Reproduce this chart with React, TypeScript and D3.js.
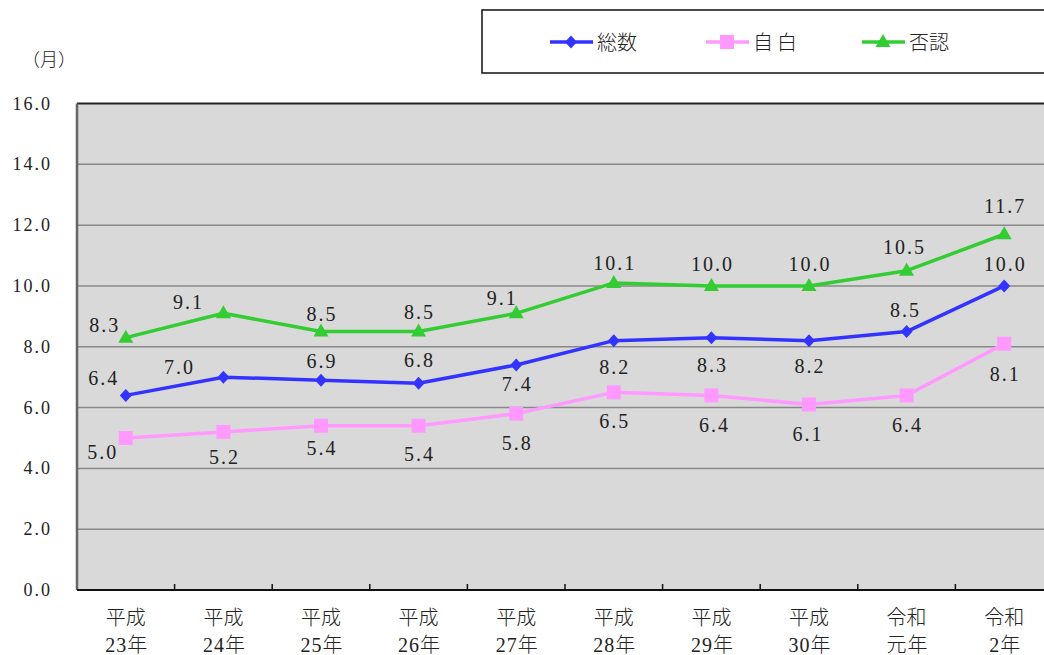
import * as d3 from 'd3';

// categories (two-line labels)
const categories = ['H23', 'H24', 'H25', 'H26', 'H27', 'H28', 'H29', 'H30', 'R1', 'R2'];
const categoryLine1 = ['平成', '平成', '平成', '平成', '平成', '平成', '平成', '平成', '令和', '令和'];
const categoryLine2 = ['23年', '24年', '25年', '26年', '27年', '28年', '29年', '30年', '元年', '2年'];

// series values (months)
const totalValues = [6.4, 7.0, 6.9, 6.8, 7.4, 8.2, 8.3, 8.2, 8.5, 10.0];
const confessValues = [5.0, 5.2, 5.4, 5.4, 5.8, 6.5, 6.4, 6.1, 6.4, 8.1];
const denyValues = [8.3, 9.1, 8.5, 8.5, 9.1, 10.1, 10.0, 10.0, 10.5, 11.7];

const yTicks = [0, 2, 4, 6, 8, 10, 12, 14, 16];

// label placement relative to the point, in px
const totalLabelOffsets = [[-23, -17], [-45, -10], [0, -19], [0, -23], [0, 19], [0, 26], [0, 27], [0, 25], [-2, -22], [0, -22]];
const confessLabelOffsets = [[-24, 14], [0, 25], [0, 22], [0, 28], [0, 29], [0, 29], [2, 30], [-2, 29], [0, 30], [0, 30]];
const denyLabelOffsets = [[-22, -13], [-36, -11], [0, -18], [0, -20], [-15, -15], [0, -20], [0, -22], [0, -22], [-3, -24], [0, -28]];

const W = 1044;
const H = 655;
const plot = { left: 77, top: 103.5, right: 1053, bottom: 590 };

const numFont = '"Liberation Serif", serif';
const cjkFont = '"Liberation Serif", "Noto Sans CJK JP", serif';

type Marker = 'diamond' | 'square' | 'triangle';

function markerPath(kind: Marker, x: number, y: number) {
  const p = d3.path();
  if (kind === 'diamond') {
    p.moveTo(x, y - 6.5);
    p.lineTo(x + 6, y);
    p.lineTo(x, y + 6.5);
    p.lineTo(x - 6, y);
    p.closePath();
  } else if (kind === 'square') {
    p.rect(x - 7, y - 7, 14, 14);
  } else {
    p.moveTo(x, y - 8);
    p.lineTo(x + 7.5, y + 5);
    p.lineTo(x - 7.5, y + 5);
    p.closePath();
  }
  return p.toString();
}

const series = [
  { name: '総数', values: totalValues, color: '#3333ff', marker: 'diamond' as Marker, offsets: totalLabelOffsets },
  { name: '自白', values: confessValues, color: '#ff99ff', marker: 'square' as Marker, offsets: confessLabelOffsets },
  { name: '否認', values: denyValues, color: '#33cc33', marker: 'triangle' as Marker, offsets: denyLabelOffsets },
];

export default function App() {
  const x = d3.scaleBand<string>().domain(categories).range([plot.left, plot.right]);
  const y = d3.scaleLinear().domain([0, 16]).range([plot.bottom, plot.top]);
  const cx = (i: number) => (x(categories[i]) as number) + x.bandwidth() / 2;

  const line = d3.line<number>()
    .x((_, i) => cx(i))
    .y(d => y(d));

  const legendX = [550, 706, 862];

  return (
    <svg width={W} height={H} style={{ position: 'absolute', left: 0, top: 0, background: '#fff' }}>
      {/* legend */}
      <rect x={482} y={10} width={600} height={63} fill="#fff" stroke="#111" strokeWidth={1.5} />
      {series.map((s, k) => (
        <g key={s.name}>
          <line x1={legendX[k]} x2={legendX[k] + 43} y1={42} y2={42} stroke={s.color} strokeWidth={3.5} />
          <path d={markerPath(s.marker, legendX[k] + 21, 42)} fill={s.color} />
          <text x={legendX[k] + 47} y={43} dominantBaseline="central" fontFamily={cjkFont} fontSize={20} fontWeight={300}
            letterSpacing={k === 1 ? 4 : 0} fill="#222">{s.name}</text>
        </g>
      ))}

      {/* unit */}
      <text x={49} y={60} textAnchor="middle" dominantBaseline="central" fontFamily={cjkFont} fontSize={18} fontWeight={300} fill="#222">（月）</text>

      {/* plot area */}
      <rect x={plot.left} y={plot.top} width={plot.right - plot.left} height={plot.bottom - plot.top} fill="#d9d9d9" />
      {yTicks.filter(t => t > 0 && t < 16).map(t => (
        <line key={t} x1={plot.left} x2={plot.right} y1={y(t)} y2={y(t)} stroke="#888" strokeWidth={1.5} />
      ))}
      <line x1={plot.left} x2={plot.right} y1={plot.top} y2={plot.top} stroke="#222" strokeWidth={2} />
      <line x1={plot.left} x2={plot.left} y1={plot.top} y2={plot.bottom} stroke="#666" strokeWidth={2.5} />
      <line x1={plot.left} x2={plot.right} y1={plot.bottom} y2={plot.bottom} stroke="#111" strokeWidth={2} />
      {categories.slice(1).map(c => (
        <line key={c} x1={x(c)} x2={x(c)} y1={plot.bottom} y2={plot.bottom - 6} stroke="#111" strokeWidth={1.5} />
      ))}

      {/* y tick labels */}
      {yTicks.map(t => (
        <text key={t} x={52} y={y(t)} textAnchor="end" dominantBaseline="central" fontFamily={numFont} fontSize={18}
          letterSpacing={2} fill="#222">
          {t.toFixed(1)}
        </text>
      ))}

      {/* x labels */}
      {categories.map((c, i) => (
        <g key={c} fontFamily={cjkFont} fontSize={20} fontWeight={300} fill="#222" textAnchor="middle">
          <text x={cx(i)} y={618} dominantBaseline="central">{categoryLine1[i]}</text>
          <text x={cx(i) + 1} y={645} dominantBaseline="central" letterSpacing={1}>{categoryLine2[i]}</text>
        </g>
      ))}

      {/* series */}
      {series.map(s => (
        <g key={s.name}>
          <path d={line(s.values) as string} fill="none" stroke={s.color} strokeWidth={3.5} strokeLinejoin="round" />
          {s.values.map((v, i) => (
            <path key={i} d={markerPath(s.marker, cx(i), y(v))} fill={s.color} />
          ))}
        </g>
      ))}

      {/* data labels */}
      {series.map(s => (
        <g key={s.name + '-labels'} fontFamily={numFont} fontSize={20} fill="#222" textAnchor="middle" letterSpacing={2}>
          {s.values.map((v, i) => (
            <text key={i} x={cx(i) + s.offsets[i][0] + 1} y={y(v) + s.offsets[i][1]} dominantBaseline="central">
              {v.toFixed(1)}
            </text>
          ))}
        </g>
      ))}
    </svg>
  );
}
